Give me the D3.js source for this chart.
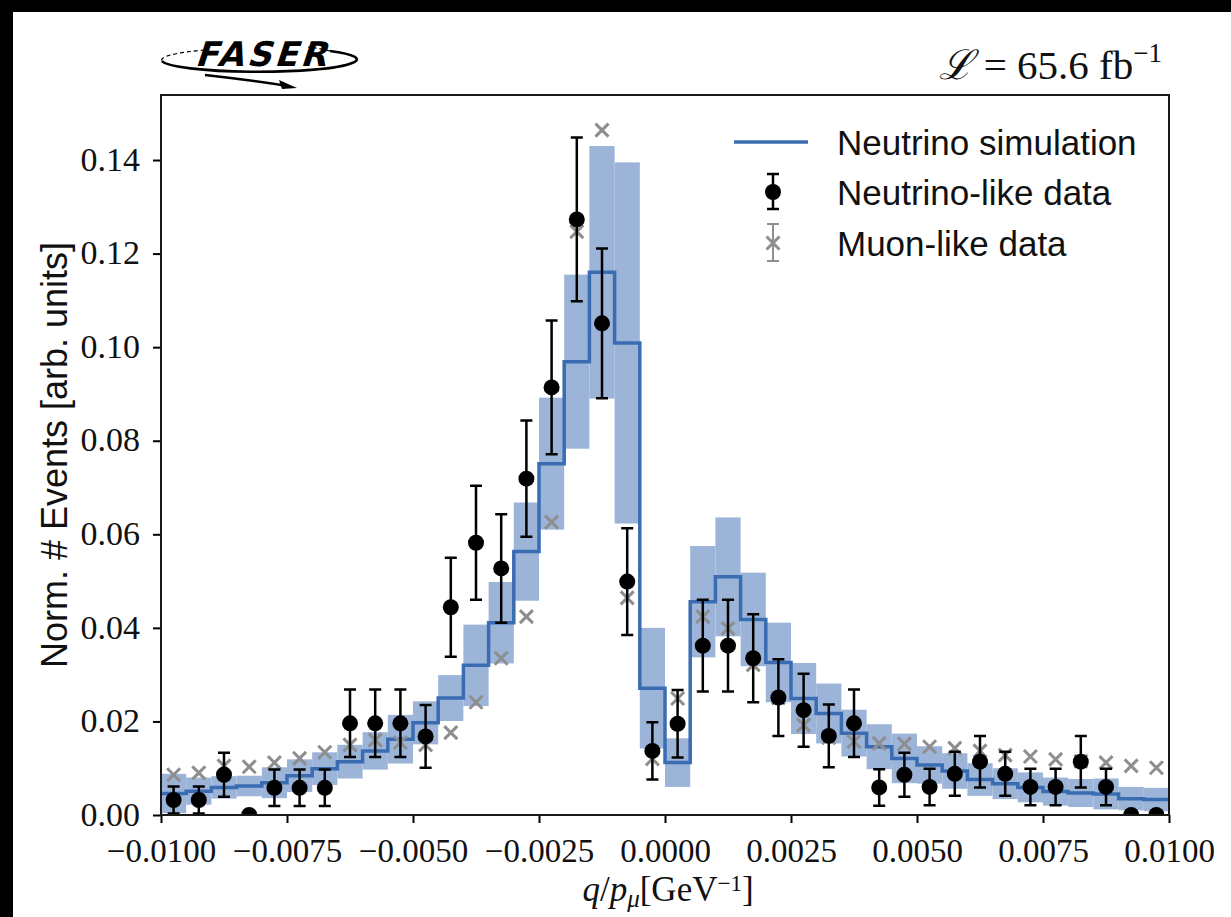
<!DOCTYPE html>
<html>
<head>
<meta charset="utf-8">
<script src="https://cdn.jsdelivr.net/npm/d3@7"></script>
<style>
  body { margin: 0; background: #000; }
  svg { display: block; }
</style>
</head>
<body>
<div id="my_dataviz"></div>
<script>
// bin centres of q/p (GeV^-1), 40 bins of 0.0005
const binCenters = [
  -0.00975, -0.00925, -0.00875, -0.00825, -0.00775, -0.00725, -0.00675, -0.00625, -0.00575, -0.00525,
  -0.00475, -0.00425, -0.00375, -0.00325, -0.00275, -0.00225, -0.00175, -0.00125, -0.00075, -0.00025,
   0.00025,  0.00075,  0.00125,  0.00175,  0.00225,  0.00275,  0.00325,  0.00375,  0.00425,  0.00475,
   0.00525,  0.00575,  0.00625,  0.00675,  0.00725,  0.00775,  0.00825,  0.00875,  0.00925,  0.00975
];
const binWidth = 0.0005;

// Neutrino simulation (step line) and its uncertainty band
const simValues = [
  0.0046, 0.0051, 0.0059, 0.0062, 0.0069, 0.0084, 0.0099, 0.0114, 0.0137, 0.0162,
  0.0197, 0.0250, 0.0320, 0.0411, 0.0563, 0.0751, 0.0969, 0.1160, 0.1009, 0.0271,
  0.0112, 0.0456, 0.0509, 0.0418, 0.0326, 0.0249, 0.0217, 0.0175, 0.0146, 0.0121,
  0.0107, 0.0094, 0.0076, 0.0067, 0.0059, 0.0050, 0.0047, 0.0045, 0.0035, 0.0033
];
const simErrors = [
  0.0042, 0.0029, 0.0024, 0.0022, 0.0033, 0.0035, 0.0035, 0.0036, 0.0040, 0.0052,
  0.0046, 0.0049, 0.0087, 0.0087, 0.0105, 0.0141, 0.0186, 0.0270, 0.0386, 0.0129,
  0.0052, 0.0119, 0.0127, 0.0100, 0.0085, 0.0076, 0.0064, 0.0050, 0.0048, 0.0053,
  0.0040, 0.0038, 0.0035, 0.0033, 0.0032, 0.0030, 0.0030, 0.0033, 0.0025, 0.0025
];

// Neutrino-like data (black points)
const nuValues = [
  0.0032, 0.0032, 0.0086, 0.0000, 0.0058, 0.0058, 0.0058, 0.0196, 0.0196, 0.0196,
  0.0168, 0.0444, 0.0582, 0.0527, 0.0719, 0.0914, 0.1273, 0.1051, 0.0499, 0.0137,
  0.0195, 0.0362, 0.0362, 0.0335, 0.0251, 0.0224, 0.0169, 0.0196, 0.0059, 0.0086,
  0.0060, 0.0088, 0.0114, 0.0088, 0.0060, 0.0060, 0.0114, 0.0060, 0.0000, 0.0000
];
const nuErrors = [
  0.0029, 0.0029, 0.0047, 0.0000, 0.0039, 0.0039, 0.0039, 0.0072, 0.0072, 0.0072,
  0.0067, 0.0106, 0.0122, 0.0116, 0.0124, 0.0143, 0.0175, 0.0160, 0.0114, 0.0061,
  0.0072, 0.0098, 0.0098, 0.0094, 0.0082, 0.0078, 0.0067, 0.0072, 0.0039, 0.0047,
  0.0039, 0.0047, 0.0055, 0.0047, 0.0039, 0.0039, 0.0055, 0.0039, 0.0000, 0.0000
];

// Muon-like data (grey crosses)
const muValues = [
  0.0086, 0.0090, 0.0105, 0.0103, 0.0112, 0.0121, 0.0134, 0.0150, 0.0160, 0.0155,
  0.0150, 0.0176, 0.0241, 0.0335, 0.0424, 0.0626, 0.1247, 0.1464, 0.0464, 0.0120,
  0.0249, 0.0424, 0.0399, 0.0321, 0.0250, 0.0192, 0.0165, 0.0157, 0.0153, 0.0152,
  0.0146, 0.0143, 0.0137, 0.0128, 0.0125, 0.0119, 0.0115, 0.0112, 0.0105, 0.0101
];

const xTicks = [-0.01, -0.0075, -0.005, -0.0025, 0, 0.0025, 0.005, 0.0075, 0.01];
const yTicks = [0, 0.02, 0.04, 0.06, 0.08, 0.10, 0.12, 0.14];
const legendLabels = ["Neutrino simulation", "Neutrino-like data", "Muon-like data"];

const simColor = "#3a6cb2", bandColor = "#9bb4d8", muColor = "#8e8e8e";

// set the dimensions and margins of the graph
const W = 1231, H = 917;
const margin = {top: 95, right: 62, bottom: 102, left: 161},
  width = W - margin.left - margin.right,
  height = H - margin.top - margin.bottom;

const root = d3.select("#my_dataviz")
  .append("svg")
  .attr("width", W)
  .attr("height", H);

// black frame like the screenshot, white page
root.append("rect").attr("width", W).attr("height", H).attr("fill", "#000");
root.append("rect").attr("x", 13).attr("y", 12).attr("width", W - 13).attr("height", H - 12).attr("fill", "#fff");

const svg = root.append("g")
  .attr("transform", `translate(${margin.left},${margin.top})`);

// Add X axis
const x = d3.scaleLinear()
  .domain([-0.01, 0.01])
  .range([0, width]);

// Add Y axis
const y = d3.scaleLinear()
  .domain([0, 0.1539])
  .range([height, 0]);

const data = binCenters.map((c, i) => ({
  c: c, sim: simValues[i], simErr: simErrors[i],
  nu: nuValues[i], nuErr: nuErrors[i], mu: muValues[i]
}));

// uncertainty band of the simulation
svg.append("g")
  .selectAll("rect")
  .data(data)
  .join("rect")
    .attr("x", d => x(d.c - binWidth / 2))
    .attr("width", d => x(d.c + binWidth / 2) - x(d.c - binWidth / 2))
    .attr("y", d => y(Math.min(d.sim + d.simErr, 0.1539)))
    .attr("height", d => y(Math.max(d.sim - d.simErr, 0)) - y(Math.min(d.sim + d.simErr, 0.1539)))
    .attr("fill", bandColor);

// step line of the simulation
const stepPts = data.map(d => [d.c - binWidth / 2, d.sim]);
stepPts.push([data[data.length - 1].c + binWidth / 2, data[data.length - 1].sim]);
svg.append("path")
  .datum(stepPts)
  .attr("fill", "none")
  .attr("stroke", simColor)
  .attr("stroke-width", 3.5)
  .attr("d", d3.line().curve(d3.curveStepAfter)
    .x(d => x(d[0]))
    .y(d => y(d[1])));

// muon-like crosses
const cross = 6.5;
const mu = svg.append("g").attr("stroke", muColor).attr("stroke-width", 3);
mu.selectAll("path")
  .data(data)
  .join("path")
    .attr("d", d => {
      const cx = x(d.c), cy = y(d.mu);
      return `M${cx - cross},${cy - cross}L${cx + cross},${cy + cross}M${cx - cross},${cy + cross}L${cx + cross},${cy - cross}`;
    });

// neutrino-like error bars
const eb = svg.append("g").attr("stroke", "#000").attr("stroke-width", 2.5);
eb.selectAll("path")
  .data(data.filter(d => d.nuErr > 0))
  .join("path")
    .attr("d", d => {
      const cx = x(d.c), t = y(d.nu + d.nuErr), b = y(Math.max(d.nu - d.nuErr, 0));
      return `M${cx},${t}V${b}M${cx - 6},${t}H${cx + 6}M${cx - 6},${b}H${cx + 6}`;
    });

// neutrino-like points (clipped at the bottom like matplotlib)
svg.append("clipPath").attr("id", "clip")
  .append("rect").attr("width", width).attr("height", height);
svg.append("g")
  .attr("clip-path", "url(#clip)")
  .selectAll("circle")
  .data(data)
  .join("circle")
    .attr("cx", d => x(d.c))
    .attr("cy", d => y(d.nu))
    .attr("r", 8)
    .attr("fill", "#000");

// axes
const xAxis = svg.append("g")
  .attr("transform", `translate(0,${height})`)
  .call(d3.axisBottom(x).tickValues(xTicks).tickSize(8).tickPadding(5)
    .tickFormat(d => d3.format(".4f")(d).replace("-", "\u2212")));
const yAxis = svg.append("g")
  .call(d3.axisLeft(y).tickValues(yTicks).tickSize(8).tickPadding(13)
    .tickFormat(d3.format(".2f")));

[xAxis, yAxis].forEach(a => {
  a.selectAll("path.domain").remove();
  a.selectAll("line").attr("stroke", "#000").attr("stroke-width", 2);
  a.selectAll("text")
    .attr("fill", "#111")
    .style("font-family", "'Liberation Serif', 'DejaVu Serif', serif");
});
xAxis.selectAll("text").style("font-size", "33px").attr("dy", "34px");
yAxis.selectAll("text").style("font-size", "34px").attr("dy", "0.30em");

// frame
svg.append("rect")
  .attr("width", width)
  .attr("height", height)
  .attr("fill", "none")
  .attr("stroke", "#1a1a1a")
  .attr("stroke-width", 2);

// axis labels
root.append("text")
  .attr("transform", `translate(67,${margin.top + height / 2}) rotate(-90)`)
  .attr("text-anchor", "middle")
  .style("font-family", "'Liberation Sans', Arial, sans-serif")
  .style("font-size", "36px")
  .attr("fill", "#111")
  .text("Norm. # Events [arb. units]");

const xl = root.append("text")
  .attr("x", 668)
  .attr("y", 901)
  .attr("text-anchor", "middle")
  .style("font-family", "'Liberation Serif', 'DejaVu Serif', serif")
  .style("font-size", "35px")
  .attr("fill", "#111");
xl.append("tspan").style("font-style", "italic").text("q");
xl.append("tspan").text("/");
xl.append("tspan").style("font-style", "italic").text("p");
xl.append("tspan").attr("dy", 6).style("font-size", "25px").style("font-style", "italic").text("\u03bc");
xl.append("tspan").attr("dy", -6).text("[GeV");
xl.append("tspan").attr("dy", -10).style("font-size", "23px").text("\u22121");
xl.append("tspan").attr("dy", 10).text("]");

// luminosity label
const lum = root.append("text")
  .attr("x", 1162)
  .attr("y", 79)
  .attr("text-anchor", "end")
  .style("font-family", "'Liberation Serif', 'DejaVu Serif', serif")
  .style("font-size", "41px")
  .attr("fill", "#111");
lum.append("tspan").style("font-family", "'DejaVu Serif', serif").style("font-style", "italic").text("\u2112");
lum.append("tspan").text(" = 65.6 fb");
lum.append("tspan").attr("dy", -17).style("font-size", "27px").text("\u22121");

// FASER logo
const logo = root.append("g");
logo.append("path")
  .attr("d", "M205,50 A97,12 0 0,0 162,61")
  .attr("fill", "none").attr("stroke", "#000").attr("stroke-width", 1.2).attr("stroke-dasharray", "4,3");
logo.append("path")
  .attr("d", "M162,61 A97,12 0 0,0 352,63 A97,12 0 0,0 330,51")
  .attr("fill", "none").attr("stroke", "#000").attr("stroke-width", 2.6);
logo.append("path")
  .attr("d", "M330,51 A97,12 0 0,0 308,47")
  .attr("fill", "none").attr("stroke", "#000").attr("stroke-width", 1.2).attr("stroke-dasharray", "4,3");
logo.append("path")
  .attr("d", "M205,75 Q250,80 288,86")
  .attr("fill", "none").attr("stroke", "#000").attr("stroke-width", 2.6);
logo.append("path")
  .attr("d", "M297,88 L279,80 L282,89 Z")
  .attr("fill", "#000");
logo.append("text")
  .attr("x", 196)
  .attr("y", 66)
  .attr("transform", "skewX(-18) translate(20,0)")
  .style("font-family", "'DejaVu Sans', sans-serif")
  .style("font-weight", "bold")
  .style("font-size", "34px")
  .style("letter-spacing", "3px")
  .attr("fill", "#000")
  .text("FASER");

// legend
const lg = root.append("g")
  .style("font-family", "'Liberation Sans', Arial, sans-serif")
  .style("font-size", "35px")
  .attr("fill", "#111");
const rowY = [142, 192, 243];
lg.append("line")
  .attr("x1", 734).attr("x2", 808).attr("y1", rowY[0]).attr("y2", rowY[0])
  .attr("stroke", simColor).attr("stroke-width", 3.5);
lg.append("path")
  .attr("d", `M773,${rowY[1] - 18}V${rowY[1] + 17}M767,${rowY[1] - 18}H779M767,${rowY[1] + 17}H779`)
  .attr("stroke", "#000").attr("stroke-width", 2.5);
lg.append("circle").attr("cx", 773).attr("cy", rowY[1]).attr("r", 8).attr("fill", "#000");
lg.append("path")
  .attr("d", `M773,${rowY[2] - 19}V${rowY[2] + 18}M767,${rowY[2] - 19}H779M767,${rowY[2] + 18}H779`)
  .attr("stroke", muColor).attr("stroke-width", 2);
lg.append("path")
  .attr("d", `M${773 - cross},${rowY[2] - cross}L${773 + cross},${rowY[2] + cross}M${773 - cross},${rowY[2] + cross}L${773 + cross},${rowY[2] - cross}`)
  .attr("stroke", muColor).attr("stroke-width", 3);
lg.selectAll("text")
  .data(legendLabels)
  .join("text")
    .attr("x", 837)
    .attr("y", (d, i) => rowY[i])
    .attr("dy", "0.36em")
    .text(d => d);
</script>
</body>
</html>
